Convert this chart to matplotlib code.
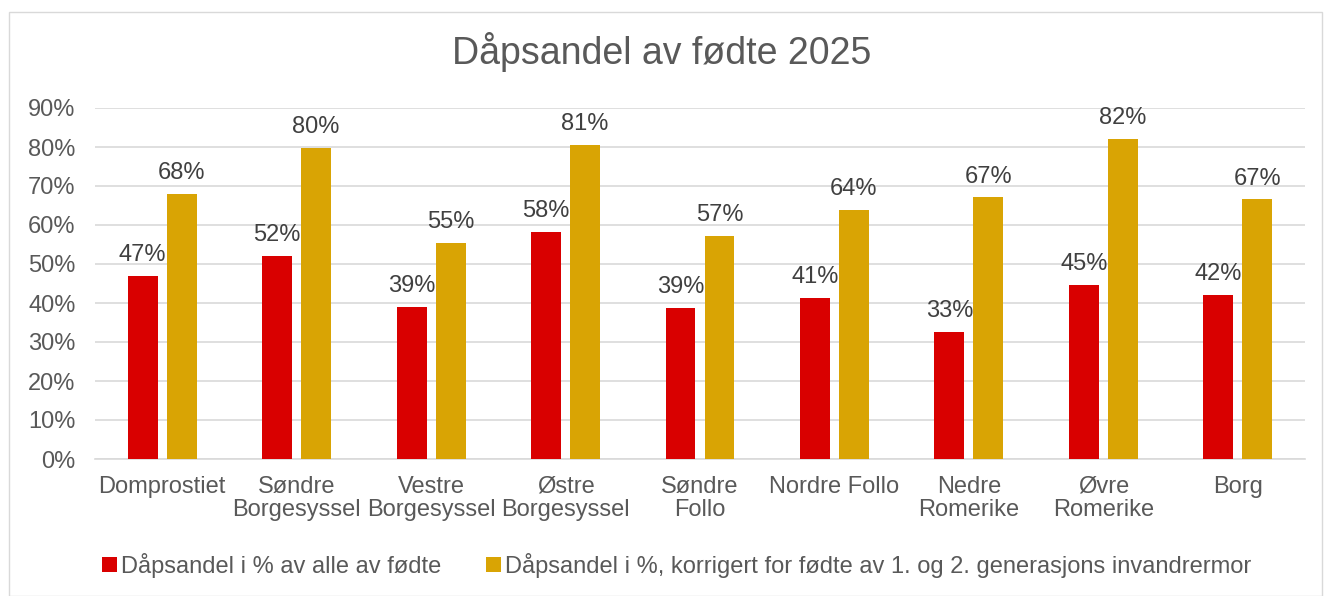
import matplotlib
matplotlib.use("Agg")
import matplotlib.pyplot as plt
import numpy as np
from matplotlib.patches import Rectangle

categories = ["Domprostiet", "Søndre\nBorgesyssel", "Vestre\nBorgesyssel", "Østre\nBorgesyssel",
              "Søndre\nFollo", "Nordre Follo", "Nedre\nRomerike", "Øvre\nRomerike", "Borg"]
series_all = [0.469, 0.521, 0.390, 0.582, 0.387, 0.413, 0.326, 0.446, 0.421]
series_corr = [0.679, 0.797, 0.554, 0.806, 0.572, 0.638, 0.671, 0.821, 0.666]
series_names = ["Dåpsandel i % av alle av fødte",
                "Dåpsandel i %, korrigert for fødte av 1. og 2. generasjons invandrermor"]
title = "Dåpsandel av fødte 2025"

plt.rcParams['font.family'] = ['Liberation Sans', 'DejaVu Sans']
txt = "#595959"
red = "#D90000"
gold = "#D9A404"

fig = plt.figure(figsize=(13.24, 5.96), dpi=100)
ax = fig.add_axes([95/1324, 1-459/596, 1210/1324, 351/596])
fig.patches.append(Rectangle((9/1324, 0), 1-9/1324-2/1324, 1-12/596, transform=fig.transFigure,
                             fill=False, edgecolor="#D9D9D9", linewidth=1))

x = np.arange(len(categories))
w = 0.223
off = 0.145
b1 = ax.bar(x - off, series_all, w, color=red, label=series_names[0], zorder=3)
b2 = ax.bar(x + off, series_corr, w, color=gold, label=series_names[1], zorder=3)

for bars, vals in ((b1, series_all), (b2, series_corr)):
    for r, v in zip(bars, vals):
        ax.annotate(f"{round(v*100):.0f}%", (r.get_x() + r.get_width()/2, v),
                    xytext=(0, 7), textcoords="offset points", ha="center", va="bottom",
                    fontsize=17, color="#404040")

ax.set_xlim(-0.5, len(categories) - 0.5)
ax.set_ylim(0, 0.9)
ax.set_yticks(np.arange(0, 0.91, 0.1))
ax.set_yticklabels([f"{int(round(t*100))}%" for t in np.arange(0, 0.91, 0.1)])
ax.set_xticks(x)
ax.set_xticklabels(categories, linespacing=1.05)
ax.tick_params(axis="both", length=0, labelsize=17, labelcolor=txt)
ax.tick_params(axis="x", pad=12)
ax.tick_params(axis="y", pad=14)
ax.grid(axis="y", color="#D9D9D9", linewidth=1.2, zorder=0)
for s in ("top", "right", "left"):
    ax.spines[s].set_visible(False)
ax.spines["bottom"].set_color("#D9D9D9")
ax.spines["bottom"].set_linewidth(1.2)

fig.suptitle(title, y=1-52/596, va="center", fontsize=27, color=txt)
fig.legend(handles=[b1, b2], labels=series_names, loc="center", bbox_to_anchor=(677/1324, 1-565/596),
           ncol=2, frameon=False, fontsize=17, labelcolor=txt, handlelength=0.6, handleheight=0.6,
           handletextpad=0.2, columnspacing=1.9)

fig.savefig("out.png", dpi=100)
